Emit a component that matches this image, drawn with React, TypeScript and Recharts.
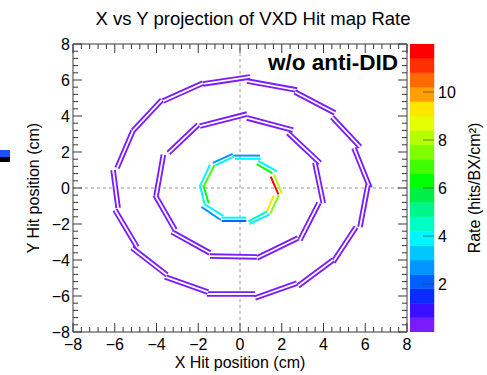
import React from 'react';
import { ScatterChart, Scatter, XAxis, YAxis, ReferenceLine, BarChart, Bar } from 'recharts';

const FONT = '"Liberation Sans", Arial, Helvetica, sans-serif';
const frameColor = '#3a3a3a';

// axes (cm)
const axisRange: [number, number] = [-8, 8];
const majorTicks = [-8, -6, -4, -2, 0, 2, 4, 6, 8];
const minorPerMajor = 5;

// colour scale, rate in hits/BX/cm^2
const rateRange: [number, number] = [0, 12];
const rateTicks = [2, 4, 6, 8, 10];
const palette = [
  '#7a1cff', '#3a10ff', '#0a2cff', '#0060ff', '#0095ff',
  '#00c8ff', '#00f6ff', '#00ffc4', '#00f58a', '#00ee48',
  '#00ff00', '#40ff00', '#80ff00', '#b4ff00', '#e4ff00',
  '#ffe600', '#ffa000', '#ff6a00', '#ff3000', '#ff0000',
];

// outer SVD ladders, [x1, y1, x2, y2] in cm
const outerLadders = [
  [-1.77, 5.78, 0.48, 6.17],
  [0.34, 5.94, 2.73, 5.44],
  [2.63, 5.33, 4.55, 4.17],
  [4.41, 3.94, 5.75, 2.28],
  [5.46, 2.22, 6.23, 0.0],
  [6.13, 0.17, 5.75, -2.17],
  [5.56, -2.17, 4.46, -4.11],
  [4.46, -4.0, 2.78, -5.44],
  [2.73, -5.28, 0.72, -6.11],
  [0.72, -5.89, -1.58, -5.89],
  [-1.53, -5.78, -3.59, -4.94],
  [-3.5, -4.83, -5.17, -3.33],
  [-4.93, -3.28, -5.99, -1.22],
  [-5.84, -1.11, -6.08, 1.0],
  [-5.89, 1.11, -5.13, 3.17],
  [-5.13, 3.17, -3.74, 4.89],
  [-3.69, 4.83, -1.77, 5.83],
];

// middle SVD ladders
const middleLadders = [
  [-1.92, 3.44, 0.34, 4.11],
  [0.34, 3.89, 2.54, 3.22],
  [2.3, 3.06, 3.83, 1.39],
  [3.59, 1.4, 3.99, -0.85],
  [3.78, -0.83, 2.87, -2.89],
  [2.78, -2.78, 0.81, -3.89],
  [0.81, -3.83, -1.44, -3.78],
  [-1.44, -3.61, -3.26, -2.44],
  [-3.11, -2.33, -4.07, -0.39],
  [-4.02, -0.45, -3.67, 1.85],
  [-3.43, 1.94, -2.0, 3.52],
];
const svdRate = 0.3;

// inner pixel sensors, each edge drawn with its own rate
const pxdLines = [
  [-0.32, 1.8, 0.96, 1.8],
  [-0.24, 1.62, 1.0, 1.62],
  [0.88, 1.5, 1.78, 0.93],
  [0.8, 1.33, 1.55, 0.83],
  [1.63, 0.74, 2.0, -0.3],
  [1.47, 0.63, 1.84, -0.35],
  [1.86, -0.4, 1.45, -1.42],
  [1.62, -0.42, 1.28, -1.32],
  [1.42, -1.47, 0.45, -2.0],
  [1.28, -1.32, 0.4, -1.85],
  [-0.88, -1.65, 0.3, -1.65],
  [-0.88, -1.83, 0.3, -1.83],
  [-1.85, -1.05, -0.92, -1.78],
  [-1.7, -0.9, -0.8, -1.55],
  [-1.92, 0.17, -1.7, -0.88],
  [-1.76, 0.17, -1.5, -0.85],
  [-1.92, 0.1, -1.44, 1.29],
  [-1.76, 0.05, -1.22, 1.27],
  [-1.3, 1.4, -0.35, 1.9],
  [-1.18, 1.25, -0.3, 1.74],
];
const pxdRates = [
  2.8, 4.1, 4.1, 6.5, 8.2, 11.5, 7.6, 9.3, 3.7, 4.4,
  4.1, 2.2, 2.6, 4.1, 4.1, 6.4, 4.1, 6.6, 2.8, 4.1,
];

const allTicks: number[] = [];
for (let i = 0; i < majorTicks.length - 1; i++) {
  const step = (majorTicks[i + 1] - majorTicks[i]) / minorPerMajor;
  for (let k = 0; k < minorPerMajor; k++) allTicks.push(+(majorTicks[i] + k * step).toFixed(2));
}
allTicks.push(majorTicks[majorTicks.length - 1]);

const isMajor = (v: number) => majorTicks.includes(v);
const tickLen = (v: number) => (isMajor(v) ? 9 : 5);
const fmt = (v: number) => (v < 0 ? `\u2212${-v}` : `${v}`);

const rateColor = (r: number) => {
  const band = (rateRange[1] - rateRange[0]) / palette.length;
  return palette[Math.min(palette.length - 1, Math.floor((r - rateRange[0]) / band))];
};

const toPoints = (s: number[]) => [
  { x: s[0], y: s[1] },
  { x: s[2], y: s[3] },
];
const noDot = () => <g />;

const labelStyle = { fontSize: 16, fontFamily: FONT, fill: '#000' };

const BottomTick = ({ x, y, payload }: any) => (
  <g>
    <line x1={x} y1={y} x2={x} y2={y - tickLen(payload.value)} stroke={frameColor} />
    {isMajor(payload.value) && (
      <text x={x} y={y + 18} textAnchor="middle" {...labelStyle}>
        {fmt(payload.value)}
      </text>
    )}
  </g>
);

const TopTick = ({ x, y, payload }: any) => (
  <line x1={x} y1={y} x2={x} y2={y + tickLen(payload.value)} stroke={frameColor} />
);

const LeftTick = ({ x, y, payload }: any) => (
  <g>
    <line x1={x} y1={y} x2={x + tickLen(payload.value)} y2={y} stroke={frameColor} />
    {isMajor(payload.value) && (
      <text x={x - 3} y={y + 5.5} textAnchor="end" {...labelStyle}>
        {fmt(payload.value)}
      </text>
    )}
  </g>
);

const RightTick = ({ x, y, payload }: any) => (
  <line x1={x} y1={y} x2={x - tickLen(payload.value)} y2={y} stroke={frameColor} />
);

const RateTick = ({ x, y, payload }: any) => (
  <g>
    <line x1={x} y1={y} x2={x - 11} y2={y} stroke="#333" strokeOpacity={0.6} />
    <text x={x + 4} y={y + 5.5} {...labelStyle}>
      {payload.value}
    </text>
  </g>
);

const XTitle = ({ viewBox }: any) => (
  <text x={viewBox.x + viewBox.width / 2} y={viewBox.y + 36} textAnchor="middle" fontSize={16} fontFamily={FONT}>
    X Hit position (cm)
  </text>
);

const YTitle = ({ viewBox }: any) => {
  const cx = viewBox.x + 20;
  const cy = viewBox.y + viewBox.height / 2;
  return (
    <text x={cx} y={cy} textAnchor="middle" dominantBaseline="central" transform={`rotate(-90 ${cx} ${cy})`} fontSize={16} fontFamily={FONT}>
      Y Hit position (cm)
    </text>
  );
};

const RateTitle = ({ viewBox }: any) => {
  const cx = viewBox.x + 40;
  const cy = viewBox.y + viewBox.height / 2;
  return (
    <text x={cx} y={cy} textAnchor="middle" dominantBaseline="central" transform={`rotate(-90 ${cx} ${cy})`} fontSize={16} fontFamily={FONT}>
      Rate (hits/BX/cm²)
    </text>
  );
};

const bandRow: Record<string, number | string> = { name: 'rate' };
palette.forEach((_, i) => {
  bandRow[`b${i}`] = (rateRange[1] - rateRange[0]) / palette.length;
});

export default function App() {
  const svdColor = rateColor(svdRate);
  const ladderSeries = [...outerLadders, ...middleLadders].flatMap((l, i) => [
    <Scatter
      key={`l${i}`}
      data={toPoints(l)}
      line={{ stroke: svdColor, strokeWidth: 5.5 }}
      shape={noDot}
      isAnimationActive={false}
    />,
    <Scatter
      key={`w${i}`}
      data={toPoints(l)}
      line={{ stroke: '#ffffff', strokeWidth: 1.8 }}
      shape={noDot}
      isAnimationActive={false}
    />,
  ]);

  return (
    <div style={{ position: 'absolute', left: 0, top: 0, width: 487, height: 375, background: '#fff' }}>
      <ScatterChart width={487} height={375} margin={{ top: 43, right: 79, bottom: 3, left: 13 }}>
        <XAxis
          type="number"
          dataKey="x"
          domain={axisRange}
          ticks={allTicks}
          interval={0}
          allowDataOverflow
          height={40}
          tickSize={0}
          tickMargin={0}
          tickLine={false}
          tick={BottomTick}
          axisLine={{ stroke: frameColor }}
          label={<XTitle />}
        />
        <XAxis
          xAxisId="top"
          orientation="top"
          type="number"
          dataKey="x"
          domain={axisRange}
          ticks={allTicks}
          interval={0}
          allowDataOverflow
          height={1}
          tickSize={0}
          tickMargin={0}
          tickLine={false}
          tick={TopTick}
          axisLine={{ stroke: frameColor }}
        />
        <YAxis
          type="number"
          dataKey="y"
          domain={axisRange}
          ticks={allTicks}
          interval={0}
          allowDataOverflow
          width={60}
          tickSize={0}
          tickMargin={0}
          tickLine={false}
          tick={LeftTick}
          axisLine={{ stroke: frameColor }}
          label={<YTitle />}
        />
        <YAxis
          yAxisId="right"
          orientation="right"
          type="number"
          dataKey="y"
          domain={axisRange}
          ticks={allTicks}
          interval={0}
          allowDataOverflow
          width={1}
          tickSize={0}
          tickMargin={0}
          tickLine={false}
          tick={RightTick}
          axisLine={{ stroke: frameColor }}
        />
        <ReferenceLine x={0} stroke="#9a9a9a" strokeDasharray="3 3" />
        <ReferenceLine y={0} stroke="#9a9a9a" strokeDasharray="3 3" />
        {ladderSeries}
        {pxdLines.map((l, i) => (
          <Scatter
            key={`p${i}`}
            data={toPoints(l)}
            line={{ stroke: rateColor(pxdRates[i]), strokeWidth: 2 }}
            shape={noDot}
            isAnimationActive={false}
          />
        ))}
      </ScatterChart>

      <div style={{ position: 'absolute', left: 410, top: 44 }}>
        <BarChart width={77} height={288} data={[bandRow]} margin={{ top: 0, right: 0, bottom: 0, left: 0 }} barCategoryGap={0} barGap={0}>
          <XAxis dataKey="name" hide />
          <YAxis
            orientation="right"
            type="number"
            domain={rateRange}
            ticks={rateTicks}
            interval={0}
            width={53}
            tickSize={0}
            tickMargin={0}
            tickLine={false}
            axisLine={false}
            tick={RateTick}
            label={<RateTitle />}
          />
          {palette.map((c, i) => (
            <Bar key={c} dataKey={`b${i}`} stackId="z" fill={c} stroke={c} strokeWidth={0.5} isAnimationActive={false} />
          ))}
        </BarChart>
      </div>

      <svg width={487} height={375} style={{ position: 'absolute', left: 0, top: 0, pointerEvents: 'none' }}>
        <text x={253} y={25} textAnchor="middle" fontSize={18.5} fontFamily={FONT}>
          X vs Y projection of VXD Hit map Rate
        </text>
        <text x={398} y={70} textAnchor="end" fontSize={22.5} fontWeight="bold" fontFamily={FONT}>
          w/o anti-DID
        </text>
        <rect x={0} y={150} width={10} height={7} fill="#1f4fff" />
        <rect x={0} y={157} width={10} height={5} fill="#000" />
      </svg>
    </div>
  );
}
